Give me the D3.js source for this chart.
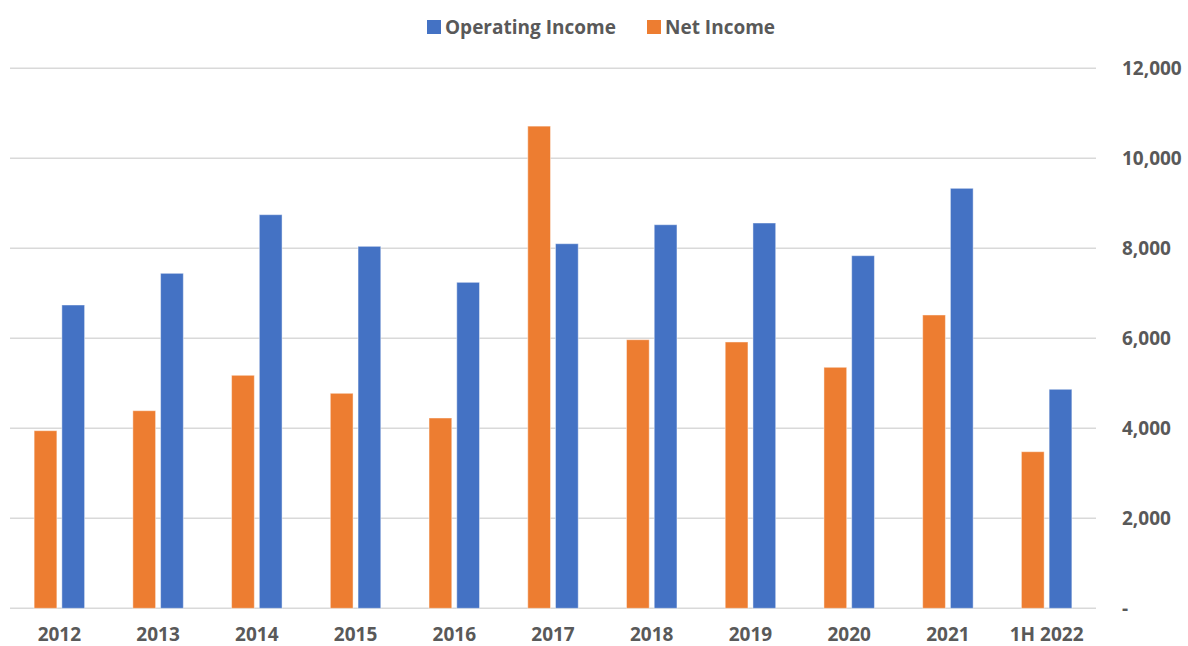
<!DOCTYPE html>
<html>
<head>
<meta charset="utf-8">
<script src="https://cdn.jsdelivr.net/npm/d3@7/dist/d3.min.js"></script>
<style>
  html, body { margin: 0; padding: 0; background: #fff; }
  svg { display: block; font-family: "Open Sans", "Noto Sans", sans-serif; }
</style>
</head>
<body>
<svg id="chart" width="1188" height="646"></svg>
<script>
const categories = ["2012","2013","2014","2015","2016","2017","2018","2019","2020","2021","1H 2022"];
const netIncome = [3947, 4391, 5178, 4778, 4229, 10715, 5969, 5918, 5356, 6518, 3480];
const operatingIncome = [6740, 7444, 8747, 8044, 7244, 8102, 8524, 8562, 7836, 9333, 4867];
const seriesNames = ["Net Income", "Operating Income"];
const seriesColors = ["#ED7D31", "#4472C4"];
const legendOrder = ["Operating Income", "Net Income"];
const yTicks = [0, 2000, 4000, 6000, 8000, 10000, 12000];

(function () {
const svg = d3.select("#chart");
const mLeft = 10, mRight = 1096, mTop = 68.3, mBottom = 608.3;
const fs = 19;

const x = d3.scaleBand().domain(categories).range([mLeft, mRight]).padding(0);
const xs = d3.scaleBand().domain(seriesNames).range([0, x.bandwidth()])
  .paddingInner(0.18).paddingOuter(0.87);
const y = d3.scaleLinear().domain([0, 12000]).range([mBottom, mTop]);
const color = d3.scaleOrdinal().domain(seriesNames).range(seriesColors);

// gridlines
svg.append("g").selectAll("line").data(yTicks).join("line")
  .attr("x1", mLeft).attr("x2", mRight)
  .attr("y1", d => y(d)).attr("y2", d => y(d))
  .attr("stroke", "#d9d9d9").attr("stroke-width", 1.5);

// y axis labels (right)
const yAxis = d3.axisRight(y).tickValues(yTicks)
  .tickFormat(d => d === 0 ? "-" : d3.format(",")(d)).tickSize(0).tickPadding(0);
const ya = svg.append("g").attr("transform", `translate(1122,0)`).call(yAxis);
ya.select(".domain").remove();
ya.selectAll("text").attr("fill", "#595959").attr("font-size", fs)
  .attr("font-weight", "bold").attr("font-family", "'Open Sans', sans-serif")
  .attr("text-anchor", "start").attr("x", 0).attr("dy", "0.35em");

// bars
const data = categories.map((c, i) => ({cat: c, values: [
  {key: "Net Income", value: netIncome[i]},
  {key: "Operating Income", value: operatingIncome[i]}
]}));
const groups = svg.append("g").selectAll("g").data(data).join("g")
  .attr("transform", d => `translate(${x(d.cat)},0)`);
groups.selectAll("rect").data(d => d.values).join("rect")
  .attr("x", d => xs(d.key))
  .attr("width", xs.bandwidth())
  .attr("y", d => y(d.value))
  .attr("height", d => y(0) - y(d.value))
  .attr("fill", d => color(d.key))
  .attr("stroke", "#ffffff").attr("stroke-opacity", 0.45).attr("stroke-width", 1);

// x axis labels
const xAxis = d3.axisBottom(x).tickSize(0).tickPadding(0);
const xa = svg.append("g").attr("transform", `translate(0,${mBottom})`).call(xAxis);
xa.select(".domain").remove();
xa.selectAll("text").attr("fill", "#595959").attr("font-size", fs)
  .attr("font-weight", "bold").attr("font-family", "'Open Sans', sans-serif")
  .attr("y", 33).attr("dy", 0);

// legend
const legendX = [427, 647];
const lg = svg.append("g").selectAll("g").data(legendOrder).join("g")
  .attr("transform", (d, i) => `translate(${legendX[i]},0)`);
lg.append("rect").attr("x", 0).attr("y", 20).attr("width", 14).attr("height", 14)
  .attr("fill", d => color(d));
lg.append("text").attr("x", 18).attr("y", 27).attr("dy", "0.35em")
  .attr("fill", "#595959").attr("font-size", fs).attr("font-weight", "bold")
  .text(d => d);
})();
</script>
</body>
</html>
